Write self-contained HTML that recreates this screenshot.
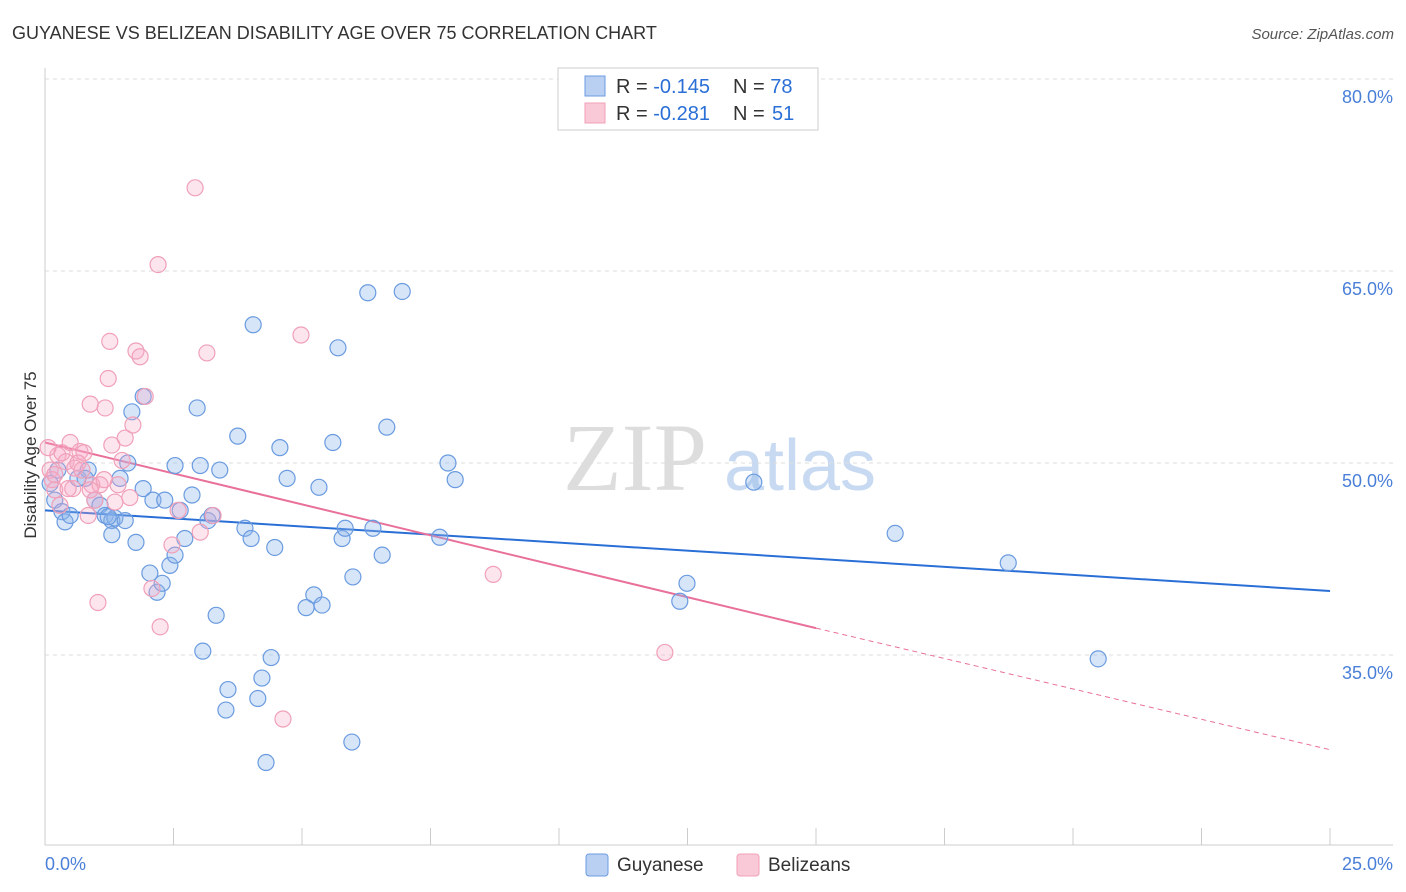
<!DOCTYPE html>
<html><head><meta charset="utf-8"><style>
body{margin:0;background:#fff;font-family:"Liberation Sans",sans-serif}
svg{display:block}
</style></head><body>
<svg id="chart" width="1406" height="892">
<text x="12" y="39" font-size="18" fill="#333">GUYANESE VS BELIZEAN DISABILITY AGE OVER 75 CORRELATION CHART</text>
<text x="1394" y="39" font-size="15" fill="#555" text-anchor="end" font-style="italic">Source: ZipAtlas.com</text>
<text x="36" y="455" font-size="17" fill="#333" text-anchor="middle" transform="rotate(-90 36 455)">Disability Age Over 75</text>
<g><text x="635" y="490" font-size="96" fill="#ddd" text-anchor="middle" font-family="Liberation Serif,serif">ZIP</text><text x="800" y="490" font-size="72" fill="#c8daf2" text-anchor="middle">atlas</text></g>
<g id="grid"></g><g id="axes"></g><g id="trends"></g><g id="pts"></g>
<g>
<rect x="558" y="68" width="260" height="62" fill="#fff" stroke="#ccc"/>
<rect x="585" y="76" width="20" height="20" fill="#b9d0f3" stroke="#6a9be0"/>
<rect x="585" y="103" width="20" height="20" fill="#fac9d8" stroke="#f0a0b8"/>
<text x="616" y="93" font-size="20" fill="#333">R = <tspan fill="#2a6fd6">-0.145</tspan></text>
<text x="733" y="93" font-size="20" fill="#333">N = <tspan fill="#2a6fd6">78</tspan></text>
<text x="616" y="120" font-size="20" fill="#333">R = <tspan fill="#2a6fd6">-0.281</tspan></text>
<text x="733" y="120" font-size="20" fill="#333">N = <tspan x="772" fill="#2a6fd6">51</tspan></text>
</g>
<g>
<rect x="586" y="854" width="22" height="22" rx="3" fill="#b9d0f3" stroke="#6a9be0"/>
<text x="617" y="871" font-size="19" fill="#333">Guyanese</text>
<rect x="737" y="854" width="22" height="22" rx="3" fill="#fac9d8" stroke="#f0a0b8"/>
<text x="768" y="871" font-size="19" fill="#333">Belizeans</text>
</g>
</svg>
<script>
const blueX=[.19,.33,.39,.49,.64,.84,.78,.97,1.07,1.17,1.30,1.36,1.30,1.46,1.56,1.61,1.69,1.77,1.91,1.91,2.04,2.10,2.18,2.28,2.33,2.43,2.53,2.63,2.72,2.86,2.96,2.53,3.02,3.07,3.17,3.25,3.33,3.40,3.52,3.56,3.75,3.89,4.01,4.05,4.14,4.22,4.30,4.40,4.47,4.57,4.71,5.08,5.23,5.33,5.39,5.60,5.70,5.78,5.84,5.97,5.99,6.28,6.38,6.56,6.65,6.95,7.68,7.84,7.98,12.35,12.49,13.79,16.54,18.74,20.49,.10,.25,1.23];
const blueY=[47.1,46.2,45.4,45.9,48.8,49.45,48.8,47.1,46.7,45.9,45.5,45.7,44.4,48.8,45.5,50.0,54.0,43.8,55.2,48.0,41.4,47.1,39.9,40.6,47.1,42.0,42.8,46.3,44.1,47.5,54.3,49.8,49.8,35.3,45.5,45.9,38.1,49.45,30.7,32.3,52.1,44.9,44.1,60.8,31.6,33.2,26.6,34.8,43.4,51.2,48.8,38.7,39.7,48.1,38.9,51.6,59.0,44.1,44.9,28.2,41.1,63.3,44.9,42.8,52.8,63.4,44.2,50.0,48.7,39.2,40.6,48.5,44.5,42.2,34.7,48.4,49.45,45.8];
const pinkX=[.10,.14,.19,.25,.33,.41,.49,.54,.58,.68,.76,.84,.91,.97,1.03,1.07,1.17,1.23,1.26,1.30,1.36,1.42,1.50,1.56,1.65,1.71,1.77,1.85,1.95,2.08,2.20,2.24,2.47,2.59,2.92,3.02,3.15,3.27,4.63,4.98,8.72,12.06,.06,.19,.45,.88,.64,.72,.29,1.15,.88];
const pinkY=[49.45,48.7,47.9,50.6,50.8,50.1,51.6,48.0,49.6,50.9,50.8,45.9,48.3,47.1,39.1,48.3,54.3,56.6,59.5,51.4,46.95,48.3,50.2,51.95,47.3,52.97,58.75,58.3,55.2,40.2,65.5,37.2,43.6,46.3,71.5,44.6,58.6,45.9,30.0,60.0,41.3,35.2,51.2,49.1,48.0,47.9,50.0,49.45,46.7,48.7,54.6];
const blueTrendX=[0,25], blueTrendY=[46.3,40.0];
const pinkTrendX=[0,15,25], pinkTrendY=[51.6,37.1,27.6];
const yTicks=[80,65,50,35], yTickLabels=["80.0%","65.0%","50.0%","35.0%"];
const xTicks=[0,2.5,5,7.5,10,12.5,15,17.5,20,22.5,25];
const NS="http://www.w3.org/2000/svg";
const sx=v=>45+v*51.4, sy=v=>79+(80-v)*12.8;
function mk(tag,attrs,parent){const e=document.createElementNS(NS,tag);for(const k in attrs)e.setAttribute(k,attrs[k]);document.getElementById(parent).appendChild(e);return e;}
yTicks.forEach((t,i)=>{
  const l=mk('line',{x1:45,x2:1393,y1:sy(t),y2:sy(t),stroke:'#ddd','stroke-dasharray':'4,4'},'grid');
  
  
  const tx=mk('text',{x:1393,y:sy(t)+24,'font-size':18,fill:'#4a7fd8','text-anchor':'end'},'grid');tx.textContent=yTickLabels[i];
  
  
});
mk('line',{x1:45,x2:45,y1:68,y2:845,stroke:'#ccc'},'axes');
mk('line',{x1:45,x2:1393,y1:845,y2:845,stroke:'#ccc'},'axes');
xTicks.forEach(t=>{const l=mk('line',{x1:sx(t),x2:sx(t),y1:828,y2:845,stroke:'#ccc'},'axes');
  
  });
let a=mk('text',{x:45,y:870,'font-size':18,fill:'#4a7fd8'},'axes');a.textContent='0.0%';


a=mk('text',{x:1393,y:870,'font-size':18,fill:'#4a7fd8','text-anchor':'end'},'axes');a.textContent='25.0%';


function dots(X,Y,fill,stroke,name){X.forEach((x,i)=>{const c=mk('circle',{cx:sx(x),cy:sy(Y[i]),r:8,fill:fill,stroke:stroke,'stroke-width':1.2},'pts');
  
  });}
dots(blueX,blueY,'rgba(140,180,235,0.35)','#6a9be0','guyanese-point');
dots(pinkX,pinkY,'rgba(248,170,198,0.3)','#f0a0b8','belizean-point');
let t=mk('line',{x1:sx(blueTrendX[0]),y1:sy(blueTrendY[0]),x2:sx(blueTrendX[1]),y2:sy(blueTrendY[1]),stroke:'#2a6fd6','stroke-width':2},'trends');


t=mk('line',{x1:sx(pinkTrendX[0]),y1:sy(pinkTrendY[0]),x2:sx(pinkTrendX[1]),y2:sy(pinkTrendY[1]),stroke:'#e8709a','stroke-width':2},'trends');


t=mk('line',{x1:sx(pinkTrendX[1]),y1:sy(pinkTrendY[1]),x2:sx(pinkTrendX[2]),y2:sy(pinkTrendY[2]),stroke:'#e8709a','stroke-width':1,'stroke-dasharray':'5,4'},'trends');


</script>
</body></html>
